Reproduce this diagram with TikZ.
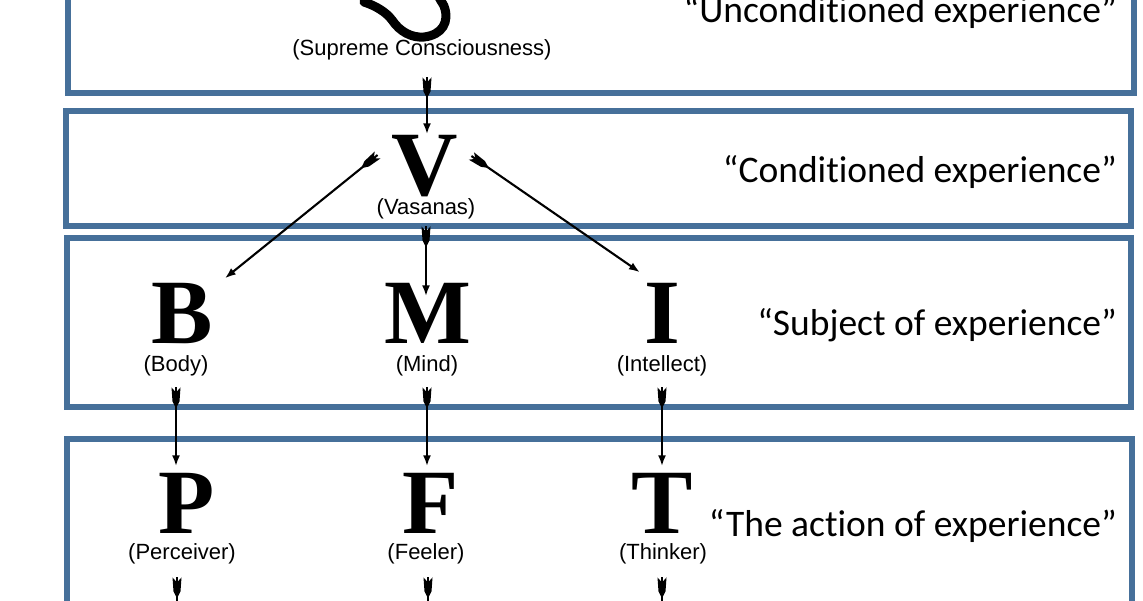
\documentclass[tikz,border=0pt]{standalone}
\usepackage{fontspec}
\setmainfont{Liberation Serif}
\newfontfamily\labelfont{Liberation Sans}
\newfontfamily\notefont[Ligatures=NoCommon]{Carlito}
\usepackage{tikz}
\usetikzlibrary{arrows.meta,calc,decorations.markings}
\definecolor{bandblue}{RGB}{70,112,154}

\begin{document}
\begin{tikzpicture}[x=1pt,y=-1pt,>={Latex[length=11pt,width=8pt]},
  band/.style={draw=bandblue,line width=6pt},
  letter/.style={font=\fontsize{92}{92}\selectfont\bfseries,inner sep=0pt,text height=61pt,text depth=0pt},
  sub/.style={font=\labelfont\fontsize{22}{24}\selectfont,inner sep=0pt},
  note/.style={font=\notefont\fontsize{37.5}{40}\selectfont,anchor=base east,inner sep=0pt},
  feather/.style={line width=2.1pt,->,postaction={decorate},
    decoration={markings,mark=at position 0 with {\fill (0pt,4.5pt) -- (5pt,0pt) -- (0pt,-4.5pt)
      -- (14pt,-3.5pt) -- (19pt,-1pt) -- (19pt,1pt) -- (14pt,3.5pt) -- cycle;}}}]
 \useasboundingbox (0,0) rectangle (1143,600);
 \clip (0,0) rectangle (1143,600);
 % the four bands
 \draw[band] (68,-20) rectangle (1134,93);
 \draw[band] (66,111) rectangle (1131,226);
 \draw[band] (67,238) rectangle (1131,407);
 \draw[band] (67,439) rectangle (1132,640);
 % lower curl of the sign
 \draw[line width=9pt,line cap=round] (364,2) .. controls (376,6) and (386,12) .. (392,20)
   .. controls (400,32) and (412,38) .. (424,37) .. controls (442,35) and (450,22) .. (444,6)
   .. controls (442,2) and (440,0) .. (438,-5);
 \node[sub] (sc) at (422,50) {(Supreme Consciousness)};
 \node[letter] (V) at (425,165) {V};
 \node[sub] (vas) at (426,209) {(Vasanas)};
 \node[letter] (B) at (182,313) {B};
 \node[sub] (body) at (176,366) {(Body)};
 \node[letter] (M) at (428,313) {M};
 \node[sub] (mind) at (427,366) {(Mind)};
 \node[letter] (I) at (662,313) {I};
 \node[sub] (intel) at (662,366) {(Intellect)};
 \node[letter] (P) at (187,503) {P};
 \node[sub] (perc) at (182,554) {(Perceiver)};
 \node[letter] (F) at (431,503) {F};
 \node[sub] (feel) at (426,554) {(Feeler)};
 \node[letter] (T) at (662,503) {T};
 \node[sub] (think) at (663,554) {(Thinker)};
 \node[note] (n1) at (1117,22) {“Unconditioned experience”};
 \node[note] (n2) at (1117,182) {“Conditioned experience”};
 \node[note] (n3) at (1117,335) {“Subject of experience”};
 \node[note] (n4) at (1117,536) {“The action of experience”};
 \coordinate (floor) at (0,640);
 % arrows
 \draw[feather] ([xshift=5pt,yshift=-17pt]sc.south) -- ([xshift=2pt]V.north);
 \draw[feather] ($(V.west)+(-14,-10)$) -- ($(B.north east)+(12,-4)$);
 \draw[feather] ($(V.east)+(13,-9)$) -- ($(I.north west)+(-4,-10)$);
 \draw[feather] ([yshift=-7pt]vas.south) -- ($(vas.south |- M.north)+(0,14)$);
 \draw[feather] ([yshift=-11pt]body.south) -- ($(body.south |- P.north)+(0,-6)$);
 \draw[feather] ([yshift=-11pt]mind.south) -- ($(mind.south |- F.north)+(0,-6)$);
 \draw[feather] ([yshift=-11pt]intel.south) -- ($(intel.south |- T.north)+(0,-6)$);
 \draw[feather] ([xshift=-5pt,yshift=-13pt]perc.south) -- ($(perc.south |- floor)+(-5,0)$);
 \draw[feather] ([xshift=2pt,yshift=-13pt]feel.south) -- ($(feel.south |- floor)+(2,0)$);
 \draw[feather] ([xshift=-1pt,yshift=-13pt]think.south) -- ($(think.south |- floor)+(-1,0)$);
\end{tikzpicture}
\end{document}
